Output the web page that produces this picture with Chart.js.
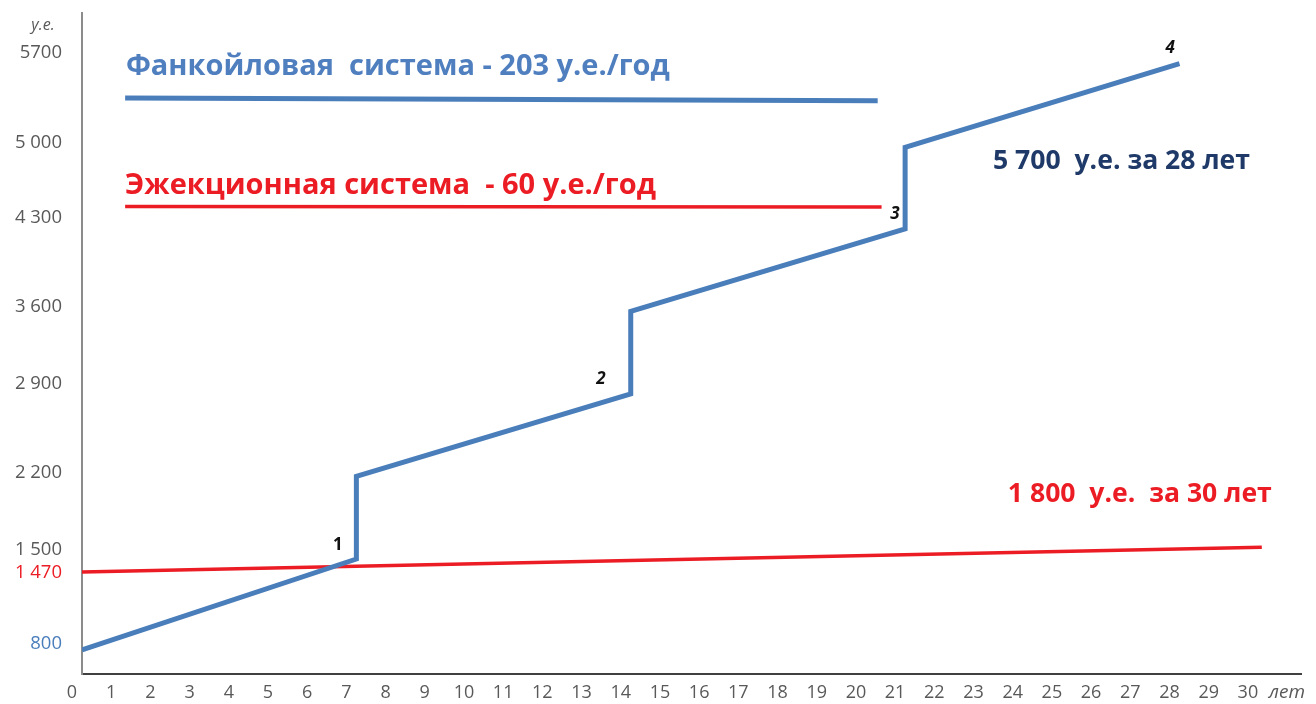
<!DOCTYPE html>
<html lang="ru">
<head>
<meta charset="utf-8">
<title>Фанкойловая и эжекционная система</title>
<script src="https://cdn.jsdelivr.net/npm/chart.js@4/dist/chart.umd.min.js"></script>
<style>
  html, body { margin: 0; padding: 0; background: #fff; }
  #wrap { width: 1316px; height: 704px; }
</style>
</head>
<body>
<div id="wrap"><canvas id="grafico"></canvas></div>
<script>
// Данные (годы по X, у.е. по Y — как)
const fancoilYears = [0, 7, 7, 14, 14, 21, 21, 28];
const fancoilCost = [730, 1500, 2200, 2900, 3600, 4300, 4990, 5700];

const ejectorYears = [0, 30.1];
const ejectorCost = [1390, 1600];

// Короткие линии-пояснения под заголовками
const fancoilKeyYears = [1.1, 20.3];
const fancoilKeyCost = [5410, 5385];
const ejectorKeyYears = [1.1, 20.4];
const ejectorKeyCost = [4490, 4485];

// Подписи осей
const xTicks = [0, 1, 2, 3, 4, 5, 6, 7, 8, 9, 10, 11, 12, 13, 14, 15, 16, 17, 18, 19, 20, 21, 22, 23, 24, 25, 26, 27, 28, 29, 30];
const yTickPos = [779, 1381, 1576, 2230, 2985, 3638, 4393, 5030, 5793];
const yTickLabels = ["800", "1 470", "1 500", "2 200", "2 900", "3 600", "4 300", "5 000", "5700"];

const toPoints = (xs, ys) => xs.map((x, i) => ({ x: x, y: ys[i] }));

const BLUE = "#4a7ebb";
const RED = "#ec1c24";
const GREY = "#595959";

Chart.defaults.font.family = "'Open Sans', sans-serif";

// Тексты на графике
const textPlugin = {
  id: "texts",
  afterDatasetsDraw(chart) {
    const { ctx, scales: { x, y } } = chart;
    const put = (txt, xv, yv, font, color, align) => {
      ctx.save();
      ctx.font = font;
      ctx.fillStyle = color;
      ctx.textAlign = align || "left";
      ctx.textBaseline = "middle";
      ctx.fillText(txt, x.getPixelForValue(xv), y.getPixelForValue(yv));
      ctx.restore();
    };
    put("Фанкойловая  система - 203 у.е./год", 1.12, 5674, "bold 29px 'Open Sans'", "#4f7fbf");
    put("Эжекционная система  - 60 у.е./год", 1.1, 4665, "bold 29px 'Open Sans'", RED);
    put("5 700  у.е. за 28 лет", 23.24, 4868, "bold 26.6px 'Open Sans'", "#1f3a68");
    put("1 800  у.е.  за 30 лет", 23.62, 2051, "bold 26.6px 'Open Sans'", RED);
    put("1", 6.53, 1619, "bold 17px 'Open Sans'", "#111", "center");
    put("2", 13.24, 3027, "italic bold 17px 'Open Sans'", "#111", "center");
    put("3", 20.74, 4427, "italic bold 17px 'Open Sans'", "#111", "center");
    put("4", 27.76, 5836, "italic bold 17px 'Open Sans'", "#111", "center");

    // подписи единиц на осях
    ctx.save();
    ctx.fillStyle = GREY;
    ctx.textBaseline = "middle";
    ctx.textAlign = "center";
    ctx.font = "italic 16px 'Open Sans'";
    ctx.fillText("у.е.", 43, 25);
    ctx.font = "italic 19px 'Open Sans'";
    ctx.fillText("лет", 1287, 693);
    ctx.restore();
  },
};

new Chart(document.getElementById("grafico"), {
  type: "scatter",
  data: {
    datasets: [
      {
        label: "Фанкойловая система",
        data: toPoints(fancoilYears, fancoilCost),
        showLine: true,
        borderColor: BLUE,
        borderWidth: 5,
        borderJoinStyle: "miter",
        pointRadius: 0,
      },
      {
        label: "Эжекционная система",
        data: toPoints(ejectorYears, ejectorCost),
        showLine: true,
        borderColor: RED,
        borderWidth: 3.5,
        pointRadius: 0,
      },
      {
        label: "Фанкойл (ключ)",
        data: toPoints(fancoilKeyYears, fancoilKeyCost),
        showLine: true,
        borderColor: BLUE,
        borderWidth: 5,
        pointRadius: 0,
      },
      {
        label: "Эжектор (ключ)",
        data: toPoints(ejectorKeyYears, ejectorKeyCost),
        showLine: true,
        borderColor: RED,
        borderWidth: 3.5,
        pointRadius: 0,
      },
    ],
  },
  options: {
    responsive: true,
    maintainAspectRatio: false,
    animation: false,
    layout: { padding: { top: 13, right: 15, left: 0, bottom: 0 } },
    plugins: {
      legend: { display: false },
      tooltip: { enabled: false },
    },
    scales: {
      x: {
        type: "linear",
        min: 0,
        max: 31.1,
        afterBuildTicks: (s) => {
          s.ticks = xTicks.map((v) => ({ value: v }));
        },
        afterFit: (s) => {
          s.height = 30;
          s.paddingLeft = 0;
          s.paddingRight = 0;
        },
        grid: { display: false, drawTicks: false },
        border: { display: true, color: "#404040", width: 2 },
        ticks: {
          autoSkip: false,
          maxRotation: 0,
          padding: 8,
          labelOffset: -10,
          color: GREY,
          font: { size: 18 },
          callback: (v) => v,
        },
      },
      y: {
        type: "linear",
        min: 525,
        max: 6130,
        afterBuildTicks: (s) => {
          s.ticks = yTickPos.map((v) => ({ value: v }));
        },
        afterFit: (s) => {
          s.width = 82;
          s.paddingTop = 0;
          s.paddingBottom = 0;
        },
        grid: { display: false, drawTicks: false },
        border: { display: true, color: "#8c8c8c", width: 2 },
        ticks: {
          autoSkip: false,
          padding: 20,
          font: { size: 18.5 },
          color: (c) =>
            yTickLabels[c.index] === "800"
              ? BLUE
              : yTickLabels[c.index] === "1 470"
              ? RED
              : GREY,
          callback: (v, i) => yTickLabels[i],
        },
      },
    },
  },
  plugins: [textPlugin],
});
</script>
</body>
</html>
